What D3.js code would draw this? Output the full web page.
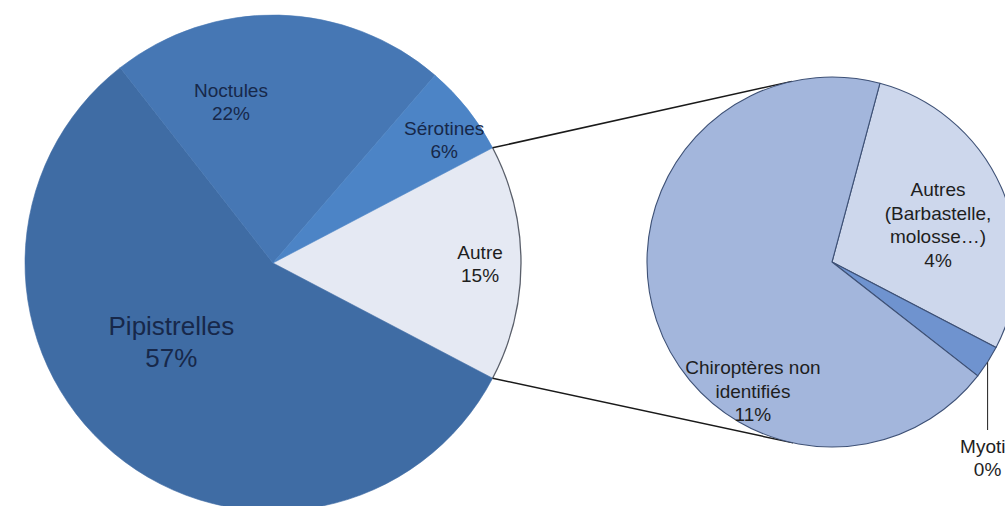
<!DOCTYPE html>
<html>
<head>
<meta charset="utf-8">
<script src="https://cdn.jsdelivr.net/npm/d3@7"></script>
<style>
  html, body { margin: 0; padding: 0; background: #ffffff; }
  svg { display: block; }
  text { font-family: "Liberation Sans", Arial, sans-serif; }
</style>
</head>
<body>
<svg id="chart" width="1005" height="506"></svg>
<script>
// Main pie: bat groups (share of contacts, %)
const mainCategories = ["Pipistrelles", "Noctules", "Sérotines"];
const mainValues = [57, 22, 6];
const otherLabel = "Autre";

// Breakdown of the "Autre" share (%)
const subCategories = ["Autres\n(Barbastelle,\nmolosse…)", "Myotis", "Chiroptères non\nidentifiés"];
const subValues = [4.4, 0.45, 10.6];

// Colours
const mainColors = { "Pipistrelles": "#3f6ca4", "Noctules": "#4677b4", "Sérotines": "#4c84c6", "Autre": "#e5e9f3" };
const subColors = ["#cdd7ec", "#6f93cf", "#a3b6dc"];

// Layout
const W = 1005, H = 506;
const main = { cx: 273, cy: 263, r: 248 };
const sub = { cx: 832, cy: 262, r: 185, startDeg: 15 };

// Label placement: [angle in degrees clockwise from 12 o'clock, fraction of radius]
const mainLabelPos = { "Pipistrelles": [232, 0.52], "Noctules": [345.4, 0.672], "Sérotines": [54.3, 0.85], "Autre": [90.3, 0.835] };
const subLabelPos = [[70.8, 0.607], null, [211.5, 0.818]];

const svg = d3.select("#chart");
const rad = d => d * Math.PI / 180;
const fmt = v => Math.round(v) + "%";

const otherTotal = d3.sum(subValues);
const mainData = [{ name: otherLabel, value: otherTotal }]
  .concat(mainCategories.map((c, i) => ({ name: c, value: mainValues[i] })));
const mainTotal = d3.sum(mainData, d => d.value);
const otherSweep = 2 * Math.PI * otherTotal / mainTotal;
const mainStart = Math.PI / 2 - otherSweep / 2;

const mainPie = d3.pie().sort(null).value(d => d.value)
  .startAngle(mainStart).endAngle(mainStart + 2 * Math.PI);
const mainArcs = mainPie(mainData);
const mainArc = d3.arc().innerRadius(0).outerRadius(main.r);

const gMain = svg.append("g").attr("transform", `translate(${main.cx},${main.cy})`);
gMain.selectAll("path.slice").data(mainArcs).join("path")
  .attr("class", "slice")
  .attr("d", mainArc)
  .attr("fill", d => mainColors[d.data.name])
  .attr("stroke", d => mainColors[d.data.name])
  .attr("stroke-width", 0.6);

// outline along the rim of the split-out slice
const otherArc = mainArcs[0];
gMain.append("path")
  .attr("d", d3.arc().innerRadius(main.r).outerRadius(main.r)(otherArc))
  .attr("fill", "none").attr("stroke", "#5a5f6a").attr("stroke-width", 1.3);

// Secondary pie
const subData = subCategories.map((c, i) => ({ name: c, value: subValues[i], color: subColors[i], idx: i }));
const subPie = d3.pie().sort(null).value(d => d.value)
  .startAngle(rad(sub.startDeg)).endAngle(rad(sub.startDeg) + 2 * Math.PI);
const subArcs = subPie(subData);
const subArc = d3.arc().innerRadius(0).outerRadius(sub.r);

// Connector lines: from the split slice's rim corners, tangent to the secondary pie
function tangentPoint(px, py, upper) {
  const dx = px - sub.cx, dy = py - sub.cy;
  const d = Math.hypot(dx, dy);
  const base = Math.atan2(dy, dx);
  const off = Math.acos(sub.r / d);
  const cands = [base + off, base - off].map(a => [sub.cx + sub.r * Math.cos(a), sub.cy + sub.r * Math.sin(a)]);
  cands.sort((a, b) => a[1] - b[1]);
  return upper ? cands[0] : cands[1];
}
const corner = a => [main.cx + main.r * Math.sin(a), main.cy - main.r * Math.cos(a)];
const topCorner = corner(otherArc.startAngle);
const botCorner = corner(otherArc.endAngle);
const lines = [[topCorner, tangentPoint(topCorner[0], topCorner[1], true)],
               [botCorner, tangentPoint(botCorner[0], botCorner[1], false)]];
svg.selectAll("line.connector").data(lines).join("line")
  .attr("class", "connector")
  .attr("x1", d => d[0][0]).attr("y1", d => d[0][1])
  .attr("x2", d => d[1][0]).attr("y2", d => d[1][1])
  .attr("stroke", "#1a1a1a").attr("stroke-width", 1.5);

const gSub = svg.append("g").attr("transform", `translate(${sub.cx},${sub.cy})`);
gSub.selectAll("path.slice").data(subArcs).join("path")
  .attr("class", "slice")
  .attr("d", subArc)
  .attr("fill", d => d.data.color)
  .attr("stroke", "#3e5176")
  .attr("stroke-width", 1.1)
  .attr("stroke-linejoin", "round");

// Multi-line centred label helper
function label(x, y, lines, size, lh, color) {
  const t = svg.append("text")
    .attr("text-anchor", "middle")
    .attr("font-size", size)
    .attr("fill", color);
  const first = y - (lines.length - 1) * lh / 2 + 0.35 * size;
  lines.forEach((s, i) => t.append("tspan").attr("x", x).attr("y", first + i * lh).text(s));
}
const polar = (c, a, f) => [c.cx + c.r * f * Math.sin(rad(a)), c.cy - c.r * f * Math.cos(rad(a))];

mainArcs.forEach(d => {
  const [a, f] = mainLabelPos[d.data.name];
  const [x, y] = polar(main, a, f);
  const big = d.data.name === "Pipistrelles";
  const light = d.data.name === otherLabel;
  label(x, y, [d.data.name, fmt(d.value)], big ? 26 : 19, big ? 32 : 23.5, light ? "#1e1e1e" : "#17284a");
});

subArcs.forEach(d => {
  const i = d.data.idx;
  const lines = d.data.name.split("\n").concat([fmt(d.value)]);
  if (subLabelPos[i]) {
    const [x, y] = polar(sub, subLabelPos[i][0], subLabelPos[i][1]);
    label(x, y, lines, 19, 23.5, "#1e1e1e");
  } else {
    // tiny slice: leader line straight down to an outside label
    const mid = (d.startAngle + d.endAngle) / 2;
    const px = sub.cx + sub.r * Math.sin(mid), py = sub.cy - sub.r * Math.cos(mid);
    const labelY = 458;
    svg.append("line")
      .attr("x1", px).attr("y1", py).attr("x2", px).attr("y2", labelY - 28)
      .attr("stroke", "#333").attr("stroke-width", 1.1);
    label(px, labelY, lines, 19, 23.5, "#1e1e1e");
  }
});
</script>
</body>
</html>
